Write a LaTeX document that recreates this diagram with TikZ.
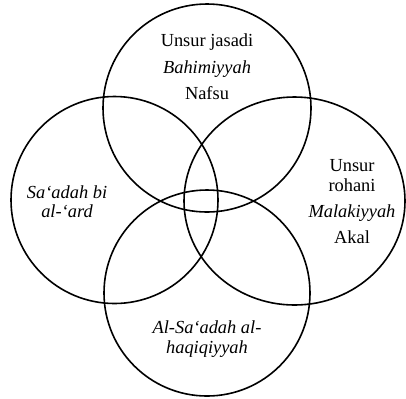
\documentclass[tikz,border=0pt]{standalone}
\usepackage{fontspec}
\setmainfont{Liberation Serif}
\usepackage{tikz}
\usetikzlibrary{positioning}

\begin{document}
\begin{tikzpicture}[
    x=0.5pt, y=-0.5pt,
    ring/.style={draw=black, line width=0.8pt},
    caption/.style={align=center, inner sep=0pt, font=\fontsize{9.2}{9.6}\selectfont}
]
    \useasboundingbox (0,0) rectangle (406,398);

    % the four circles
    \draw [ring] (207,108) circle [radius=104];
    \draw [ring] (114.5,200) circle [radius=103.5];
    \draw [ring] (294.5,201) ellipse [x radius=110.5, y radius=104];
    \draw [ring] (207,293) circle [radius=103];

    % texts
    \node [caption] (jasadi) at (207,67) {Unsur jasadi\\[3.6pt] \textit{Bahimiyyah}\\[3.6pt] Nafsu};
    \node [caption] (ard) at (67,202) {\textit{Sa‘adah bi}\\ \textit{al-‘ard}};
    \node [caption] (rohani) at (352,202) {Unsur\\ rohani\\[3.6pt] \textit{Malakiyyah}\\[3.6pt] Akal};
    \node [caption] (haqiqi) at (207,339) {\textit{Al-Sa‘adah al-}\\ \textit{haqiqiyyah}};

\end{tikzpicture}
\end{document}
